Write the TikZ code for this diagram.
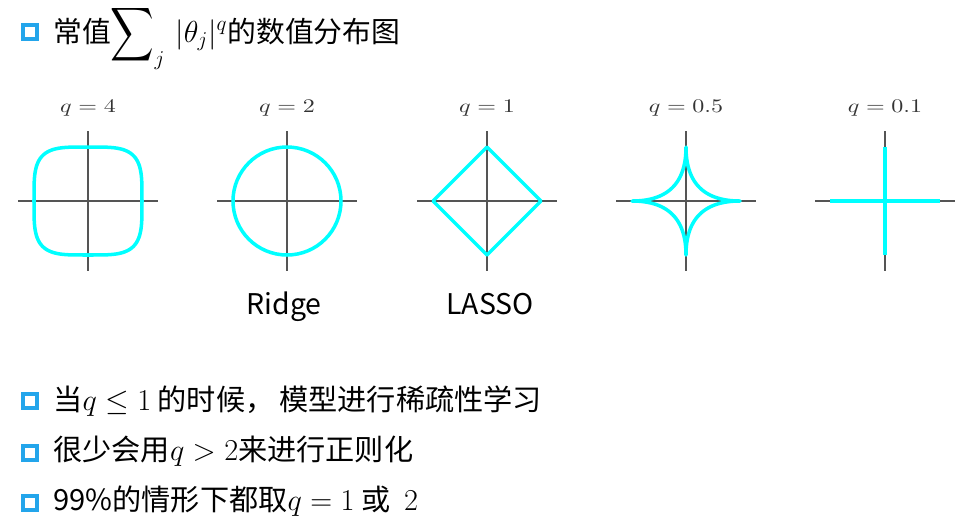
\documentclass[tikz,border=0pt]{standalone}
\usepackage[no-math]{fontspec}
\setmainfont{Noto Sans CJK SC}
\usepackage{amsmath,amssymb}
\usepackage{graphicx}
\usepackage{xcolor}
\usetikzlibrary{positioning}
\definecolor{bulletblue}{RGB}{35,165,235}
\definecolor{curvecyan}{RGB}{0,255,255}
\definecolor{axisgray}{RGB}{85,85,85}

\begin{document}
\begin{tikzpicture}[
  x=0.02cm, y=-0.02cm,
  bullet/.style={draw=bulletblue, line width=2.2pt, fill=white, minimum size=0.27cm, inner sep=0pt},
  line/.style={anchor=base west, inner sep=0pt, font=\fontsize{16.6}{19}\selectfont},
  head/.style={anchor=base west, inner sep=0pt, font=\fontsize{16.4}{20}\selectfont},
  qlab/.style={anchor=base, inner sep=0pt, text=black!80, font=\fontsize{10.8}{13}\selectfont},
  tag/.style={anchor=base, inner sep=0pt, font=\fontsize{16.2}{19}\selectfont},
  axis/.style={draw=axisgray, line width=0.7pt},
  ball/.style={draw=curvecyan, line width=2pt, line join=round}
]
\useasboundingbox (0,0) rectangle (965,529);

% title
\node[bullet] (tb) at (30,32) {};
\node[head] (title) at (53,42) {常值$\mathop{\vcenter{\hbox{\scalebox{1.05}[1.3]{$\displaystyle\sum$}}}}\nolimits_j\,|\theta_j|^q$的数值分布图};

% axes and labels
\foreach \cx/\q [count=\i] in {88/4, 287/2, 487/1, 686/0.5, 885/0.1} {
  \node[qlab] (q\i) at (\cx,112) {\scalebox{1.25}[1]{$q=\q$}};
  \draw[axis] (\cx-70,201) -- (\cx+70,201);
  \draw[axis] (\cx,131) -- (\cx,271);
}

% unit balls
\draw[ball, shift={(88,201)}] plot[domain=0:360, samples=181] (\x:{54/((cos(\x))^4+(sin(\x))^4)^0.25}) -- cycle;
\draw[ball] (287,201) circle[radius=54];
\draw[ball] (433,201) -- (487,147) -- (541,201) -- (487,255) -- cycle;
\draw[ball, shift={(686,201)}] plot[domain=0:360, samples=361]
  ({54*cos(\x)*cos(\x)*cos(\x)*abs(cos(\x))}, {54*sin(\x)*sin(\x)*sin(\x)*abs(sin(\x))}) -- cycle;
\draw[ball] (830,201) -- (940,201);
\draw[ball] (885,147) -- (885,255);

\node[tag] (ridge) at (284,314) {Ridge};
\node[tag] (lasso) at (490,314) {LASSO};

% remarks
\node[bullet] (b1) at (30,401) {};
\node[line] (l1) at (53,410) {当$q \le 1$ 的时候，\hspace{0.1cm}模型进行稀疏性学习};
\node[bullet] (b2) at (30,453) {};
\node[line] (l2) at (53,460) {很少会用$q > 2$来进行正则化};
\node[bullet] (b3) at (30,503) {};
\node[line] (l3) at (53,510) {99\%的情形下都取$q = 1$ 或\hspace{0.28cm}$2$};
\end{tikzpicture}
\end{document}
